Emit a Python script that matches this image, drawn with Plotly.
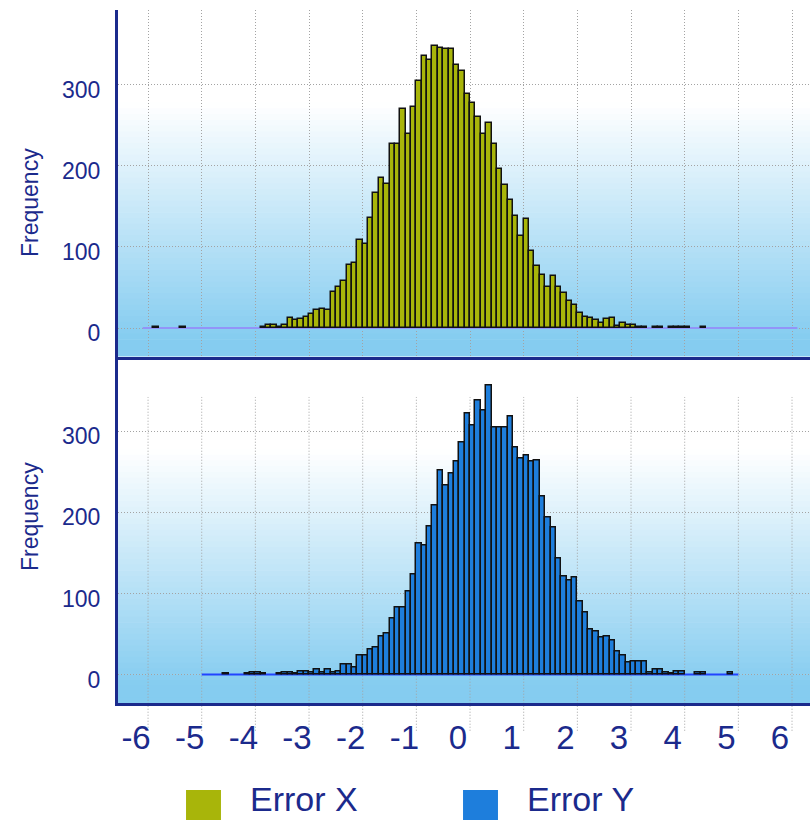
import plotly.graph_objects as go
from plotly.subplots import make_subplots

# ---------------- data ----------------
bin_width = 0.1
error_x_start = -6.1          # left edge of first Error X bin
error_y_start = -5.0          # left edge of first Error Y bin

error_x_counts = [
    0, 0, 1, 0, 0, 0, 0, 1, 0, 0,            # -6.1 .. -5.2
    0, 0, 0, 0, 0, 0, 0, 0, 0, 0,            # -5.1 .. -4.2
    0, 0, 1, 4, 4, 1, 4, 13, 10, 11,         # -4.1 .. -3.2
    14, 17, 22, 24, 22, 44, 51, 58, 78, 80,  # -3.1 .. -2.2
    108, 104, 136, 167, 185, 178, 227, 227, 270, 239,  # -2.1 .. -1.2
    273, 304, 335, 330, 348, 345, 344, 344, 324, 317,  # -1.1 .. -0.2
    288, 277, 260, 239, 253, 227, 196, 176, 158, 138,  # -0.1 .. 0.8
    113, 135, 95, 76, 65, 51, 64, 51, 43, 34,          # 0.9 .. 1.8
    29, 18, 14, 12, 10, 6, 11, 12, 2, 6,               # 1.9 .. 2.8
    4, 4, 1, 1, 0, 1, 1, 0, 1, 1,                      # 2.9 .. 3.8
    1, 1, 0, 0, 1, 0, 0, 0, 0, 0,                      # 3.9 .. 4.8
    0, 0, 0, 0, 0, 0, 0, 0, 0, 0,                      # 4.9 .. 5.8
    0, 0,                                              # 5.9 .. 6.0
]

error_y_counts = [
    0, 0, 0, 0, 1, 0, 0, 0, 1, 2,                      # -5.0 .. -4.1
    2, 1, 0, 0, 1, 2, 2, 1, 4, 4,                      # -4.0 .. -3.1
    2, 6, 3, 6, 2, 4, 12, 13, 9, 24,                   # -3.0 .. -2.1
    24, 31, 33, 47, 51, 69, 83, 83, 103, 123,          # -2.0 .. -1.1
    161, 159, 183, 208, 251, 233, 248, 262, 286, 322,  # -1.0 .. -0.1
    307, 338, 325, 356, 304, 304, 304, 318, 280, 266,  # 0.0 .. 0.9
    270, 262, 264, 219, 193, 181, 143, 121, 116, 120,  # 1.0 .. 1.9
    90, 76, 56, 53, 46, 47, 42, 28, 23, 15,            # 2.0 .. 2.9
    16, 16, 16, 3, 6, 6, 3, 1, 4, 4,                   # 3.0 .. 3.9
    0, 0, 2, 2, 0, 0, 0, 0, 2, 0,                      # 4.0 .. 4.9
]

x_tick_values = [-6, -5, -4, -3, -2, -1, 0, 1, 2, 3, 4, 5, 6]
x_tick_labels = ["-6", "-5", "-4", "-3", "-2", "-1", "0", "1", "2", "3", "4", "5", "6"]
y_tick_values = [0, 100, 200, 300]
y_tick_labels = ["0", "100", "200", "300"]
series_names = ["Error X", "Error Y"]
y_axis_title = "Frequency"

# ---------------- styles ----------------
FONT = "Liberation Sans, Arial, sans-serif"
NAVY = "#1B2A8C"
FILL = ["#A8B50A", "#1E7EDC"]
ZERO_LINE = ["#9294F8", "#2244FF"]
GRID = "#A3A3A3"
X_RANGE = [-6.56, 6.335]
Y_RANGE = [-35, 392]


def centers(start, counts):
    return [round(start + bin_width * (i + 0.5), 4) for i in range(len(counts))]


fig = make_subplots(rows=2, cols=1, shared_xaxes=True, vertical_spacing=0)

datasets = [(error_x_start, error_x_counts), (error_y_start, error_y_counts)]
for k, (start, counts) in enumerate(datasets):
    # empty bins are not drawn as bars (they are shown by the baseline)
    heights = [c if c > 0 else None for c in counts]
    fig.add_trace(
        go.Bar(
            x=centers(start, counts),
            y=heights,
            width=bin_width,
            name=series_names[k],
            marker=dict(color=FILL[k], line=dict(color="#111111", width=1.5)),
            showlegend=False,
            hoverinfo="x+y",
        ),
        row=k + 1, col=1,
    )

shapes = []
# gradient backgrounds (white at top -> sky blue at bottom)
N = 60
sky = (133, 204, 240)
for yref in ["y domain", "y2 domain"]:
    for i in range(N):
        t = (i + 0.5) / N  # 0 top .. 1 bottom
        f = min(max((t - 0.27) / 0.68, 0.0), 1.0)
        r = round(255 + (sky[0] - 255) * f)
        g = round(255 + (sky[1] - 255) * f)
        b = round(255 + (sky[2] - 255) * f)
        shapes.append(dict(
            type="rect", xref="x domain", yref=yref,
            x0=0, x1=1, y0=1 - (i + 1) / N - 0.002, y1=1 - i / N,
            fillcolor=f"rgb({r},{g},{b})", line=dict(width=0), layer="below",
        ))

# vertical grid lines of the lower panel (they start lower and run into the label zone)
for t in x_tick_values:
    shapes.append(dict(
        type="line", xref="x2", yref="paper", x0=t, x1=t, y0=-0.04, y1=0.4416,
        line=dict(color=GRID, width=1, dash="1px,2px"), layer="below",
    ))

# zero baselines spanning each histogram's bin range
for k, (start, counts) in enumerate(datasets):
    xr = "x" if k == 0 else "x2"
    yr = "y" if k == 0 else "y2"
    shapes.append(dict(
        type="line", xref=xr, yref=yr,
        x0=start, x1=start + bin_width * len(counts), y0=0, y1=0,
        line=dict(color=ZERO_LINE[k], width=2), layer="between",
    ))

# custom legend squares
legend_sq = [(0.0983, 0.1488), (0.4986, 0.5491)]
legend_txt_x = [0.1879, 0.5882]
annotations = []
for k in range(2):
    shapes.append(dict(
        type="rect", xref="paper", yref="paper",
        x0=legend_sq[k][0], x1=legend_sq[k][1], y0=-0.1700, y1=-0.1255,
        fillcolor=FILL[k], line=dict(width=0),
    ))
    annotations.append(dict(
        xref="paper", yref="paper", x=legend_txt_x[k], y=(703 - 819.8) / 693,
        text=series_names[k], showarrow=False, xanchor="left", yanchor="bottom",
        font=dict(family=FONT, size=34, color=NAVY),
    ))

# y axis titles
for yc in [(703 - 203) / 693, (703 - 517) / 693]:
    annotations.append(dict(
        xref="paper", yref="paper", x=(30 - 118) / 692, y=yc,
        text=y_axis_title, textangle=-90, showarrow=False,
        xanchor="center", yanchor="middle",
        font=dict(family=FONT, size=23, color=NAVY),
    ))

common_y = dict(
    range=Y_RANGE, tickvals=y_tick_values, ticktext=y_tick_labels,
    showgrid=True, gridcolor=GRID, gridwidth=1, griddash="1px,2px",
    zeroline=False, showline=True, linecolor=NAVY, linewidth=3,
    ticks="", ticklabelstandoff=10, ticklabelshift=5,
    tickfont=dict(family=FONT, size=23, color=NAVY),
)
fig.update_layout(
    yaxis=dict(domain=[0.5, 1.0], **common_y),
    yaxis2=dict(domain=[0.0, 0.5], **common_y),
    xaxis=dict(
        range=X_RANGE, tickvals=x_tick_values, showticklabels=False,
        showgrid=True, gridcolor=GRID, gridwidth=1, griddash="1px,2px",
        zeroline=False, showline=True, linecolor=NAVY, linewidth=3, ticks="",
    ),
    xaxis2=dict(
        range=X_RANGE, tickvals=x_tick_values, ticktext=x_tick_labels,
        showgrid=False, zeroline=False, showline=True, linecolor=NAVY, linewidth=3,
        ticks="", ticklabelstandoff=3, ticklabelshift=-12,
        tickfont=dict(family=FONT, size=33, color=NAVY),
    ),
    width=810, height=820,
    margin=dict(l=118, r=0, t=10, b=117),
    paper_bgcolor="white", plot_bgcolor="rgba(0,0,0,0)",
    bargap=0, showlegend=False,
    shapes=shapes, annotations=annotations,
)

fig.write_html("out.html")
